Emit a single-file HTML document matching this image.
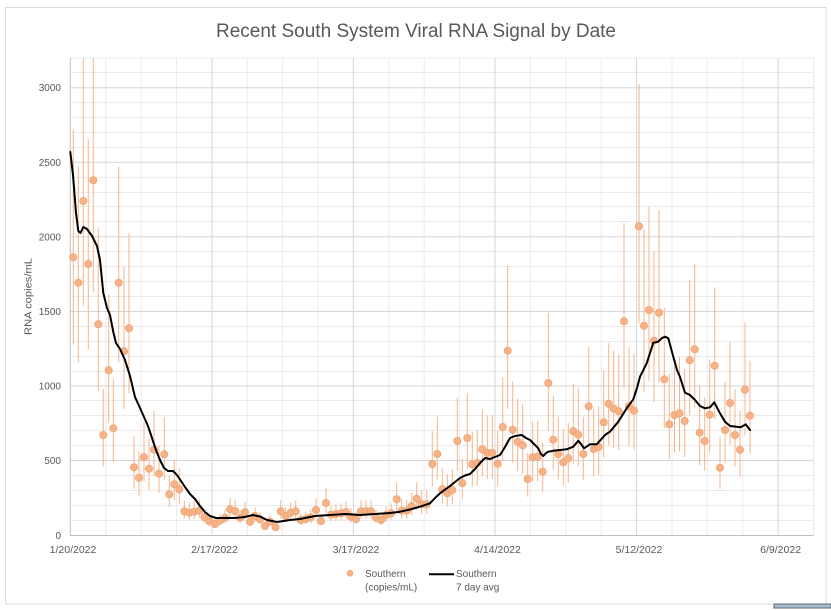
<!DOCTYPE html>
<html>
<head>
<meta charset="utf-8">
<style>
html,body{margin:0;padding:0;background:#fff;}
svg{display:block;}
text{font-family:"Liberation Sans",Arial,sans-serif;fill:#595959;}
</style>
</head>
<body>
<svg width="831" height="610" viewBox="0 0 831 610" xmlns="http://www.w3.org/2000/svg">
<rect x="0" y="0" width="831" height="610" fill="#fff"/>
<rect x="5.5" y="7.5" width="820.5" height="596.5" fill="none" stroke="#d9d9d9"/>
<rect x="774" y="604" width="57" height="4" fill="#a9bccd" stroke="#5b6b7b"/>
<text x="216" y="37" font-size="19" textLength="400" lengthAdjust="spacingAndGlyphs">Recent South System Viral RNA Signal by Date</text>
<path fill="none" stroke="#ebebeb" stroke-width="1" d="M70 520.5H813.5M70 505.5H813.5M70 490.5H813.5M70 475.5H813.5M70 445.5H813.5M70 430.5H813.5M70 415.5H813.5M70 400.5H813.5M70 371.5H813.5M70 356.5H813.5M70 341.5H813.5M70 326.5H813.5M70 296.5H813.5M70 281.5H813.5M70 266.5H813.5M70 251.5H813.5M70 221.5H813.5M70 206.5H813.5M70 192.5H813.5M70 177.5H813.5M70 147.5H813.5M70 132.5H813.5M70 117.5H813.5M70 102.5H813.5M70 72.5H813.5M70 58H813.5M105.7 58V535M141.1 58V535M176.5 58V535M247.3 58V535M282.6 58V535M318 58V535M388.8 58V535M424.2 58V535M459.6 58V535M530.4 58V535M565.8 58V535M601.2 58V535M672 58V535M707.3 58V535M742.7 58V535M813.5 58V535"/>
<path fill="none" stroke="#d6d6d6" stroke-width="1" d="M70 460.5H813.5M70 386H813.5M70 311.5H813.5M70 236.8H813.5M70 162.3H813.5M70 87.7H813.5M211.9 58V535M353.4 58V535M495 58V535M636.6 58V535M778.1 58V535"/>
<path fill="none" stroke="#bfbfbf" stroke-width="1" d="M70.3 58V535.5M70 535.5H813.5"/>
<g font-size="10" text-anchor="end">
<text x="61" y="539">0</text>
<text x="61" y="464">500</text>
<text x="61" y="389.5">1000</text>
<text x="61" y="315">1500</text>
<text x="61" y="240.3">2000</text>
<text x="61" y="165.8">2500</text>
<text x="61" y="91.2">3000</text>
</g>
<g font-size="10.5" text-anchor="middle">
<text x="73" y="553">1/20/2022</text>
<text x="214.5" y="553">2/17/2022</text>
<text x="356" y="553">3/17/2022</text>
<text x="497.5" y="553">4/14/2022</text>
<text x="639" y="553">5/12/2022</text>
<text x="780.6" y="553">6/9/2022</text>
</g>
<text transform="translate(31.5,296.5) rotate(-90)" font-size="10.5" text-anchor="middle" textLength="77" lengthAdjust="spacingAndGlyphs">RNA copies/mL</text>
<path fill="none" stroke="#f3b48c" stroke-width="1" d="M73.3 129.6V344.8M78.3 166.6V362.2M83.3 58V306.2M88.3 139.3V349.4M93.3 58V292M98.3 227.4V390.7M103.3 389V466.5M108.7 294.5V422.2M113.3 379.2V461.9M118.7 166.6V362.2M124 266.8V409.2M129 233.2V393.4M134 436.2V488.6M139 451.3V495.8M144 421.6V481.8M149 438.2V489.6M154 410.5V476.6M159 445.5V493M164.3 417.2V479.7M169.3 475.6V507.1M174.3 461V500.3M179.3 468.3V503.7M184.3 500.4V518.8M189.3 502.4V519.7M194.3 501V519M199.3 499.5V518.4M204.5 509.2V522.9M209.5 515.3V525.8M215 519V527.5M220 514.1V525.2M225 509.7V523.2M230 497.5V517.4M235 500V518.6M240 509.7V523.2M245 501.9V519.5M250 515.6V525.9M255 507.3V522M260 512.1V524.2M265 521.9V528.8M270 515.6V525.9M275.5 523.8V529.7M280.7 500.4V518.8M285.7 507.3V522M290.7 502.4V519.7M295.7 500.4V518.8M300.7 513.1V524.7M305.7 511.6V524M310.7 509.2V522.9M316 498.5V517.9M321 514.6V525.4M326 488.3V513.1M331 505.4V521.1M336 504.3V520.6M341 503.3V520.1M346 501.4V519.2M351 508.3V522.5M356 511.6V524M361 500.4V518.8M366 500.4V518.8M371 500.4V518.8M376 509.7V523.2M381 513.1V524.7M386 506.2V521.5M391 503.3V520.1M396.7 482.9V510.5M401.7 499.5V518.4M406.7 499.5V518.4M411.7 492.7V515.1M416.7 482V510.1M421.7 490.2V514M426.7 490.2V514M432.3 431.3V486.4M437.3 416.7V479.5M442.3 468.3V503.7M447.3 474.1V506.4M452.3 469.3V504.2M457.3 397.8V470.6M462.3 459.1V499.4M467.3 393.4V468.6M472.3 431.8V486.6M477.3 429.9V485.7M482.3 409.9V476.3M487.3 415.3V478.8M492.3 415.3V478.8M497.7 430.9V486.2M502.7 377.3V461M507.7 265.9V408.8M512.7 381.3V462.9M517.7 398.8V471.1M522.7 404V473.6M527.7 453.2V496.6M532.7 421.6V481.8M537.7 420.7V481.4M542.7 442.6V491.6M548.3 313.1V430.9M553.3 395.9V469.7M558.3 416.7V479.5M563.3 428.9V485.2M568.3 423V482.5M573.3 383.6V464M578.3 388.6V466.3M583.3 416.7V479.5M588.7 347.1V446.8M593.7 409.4V476.1M598.7 406.5V474.7M603.7 370.5V457.8M608.7 343.3V445.1M613.7 350.6V448.5M618.7 354.4V450.3M624 223V388.6M629 347.1V446.8M634 353.5V449.9M639 84.3V323.5M644 229.4V391.6M649 206.5V380.9M654 251.3V401.9M659 210.4V382.7M664.3 307.7V428.3M669.3 373.4V459.2M674.5 359.8V452.8M679.5 357.3V451.6M684.7 368.6V456.9M689.7 280V415.3M694.7 263.9V407.8M699.7 385.6V464.9M704.7 397.8V470.6M709.7 359.4V452.6M714.7 287.8V419M720 436.7V488.9M725 381.7V463.1M730 342.3V444.6M735 389V466.5M740 410.5V476.6M745 322.9V435.5M750 360.8V453.3"/>
<g fill="#f5b387" stroke="#efa271" stroke-width="0.8">
<circle cx="73.3" cy="257.3" r="3.6"/><circle cx="78.3" cy="282.7" r="3.6"/><circle cx="83.3" cy="201" r="3.6"/><circle cx="88.3" cy="264" r="3.6"/><circle cx="93.3" cy="180.3" r="3.6"/>
<circle cx="98.3" cy="324.3" r="3.6"/><circle cx="103.3" cy="435" r="3.6"/><circle cx="108.7" cy="370.3" r="3.6"/><circle cx="113.3" cy="428.3" r="3.6"/><circle cx="118.7" cy="282.7" r="3.6"/>
<circle cx="124" cy="351.3" r="3.6"/><circle cx="129" cy="328.3" r="3.6"/><circle cx="134" cy="467.3" r="3.6"/><circle cx="139" cy="477.7" r="3.6"/><circle cx="144" cy="457.3" r="3.6"/>
<circle cx="149" cy="468.7" r="3.6"/><circle cx="154" cy="449.7" r="3.6"/><circle cx="159" cy="473.7" r="3.6"/><circle cx="164.3" cy="454.3" r="3.6"/><circle cx="169.3" cy="494.3" r="3.6"/>
<circle cx="174.3" cy="484.3" r="3.6"/><circle cx="179.3" cy="489.3" r="3.6"/><circle cx="184.3" cy="511.3" r="3.6"/><circle cx="189.3" cy="512.7" r="3.6"/><circle cx="194.3" cy="511.7" r="3.6"/>
<circle cx="199.3" cy="510.7" r="3.6"/><circle cx="204.5" cy="517.3" r="3.6"/><circle cx="209.5" cy="521.5" r="3.6"/><circle cx="215" cy="524" r="3.6"/><circle cx="220" cy="520.7" r="3.6"/>
<circle cx="225" cy="517.7" r="3.6"/><circle cx="230" cy="509.3" r="3.6"/><circle cx="235" cy="511" r="3.6"/><circle cx="240" cy="517.7" r="3.6"/><circle cx="245" cy="512.3" r="3.6"/>
<circle cx="250" cy="521.7" r="3.6"/><circle cx="255" cy="516" r="3.6"/><circle cx="260" cy="519.3" r="3.6"/><circle cx="265" cy="526" r="3.6"/><circle cx="270" cy="521.7" r="3.6"/>
<circle cx="275.5" cy="527.3" r="3.6"/><circle cx="280.7" cy="511.3" r="3.6"/><circle cx="285.7" cy="516" r="3.6"/><circle cx="290.7" cy="512.7" r="3.6"/><circle cx="295.7" cy="511.3" r="3.6"/>
<circle cx="300.7" cy="520" r="3.6"/><circle cx="305.7" cy="519" r="3.6"/><circle cx="310.7" cy="517.3" r="3.6"/><circle cx="316" cy="510" r="3.6"/><circle cx="321" cy="521" r="3.6"/>
<circle cx="326" cy="503" r="3.6"/><circle cx="331" cy="514.7" r="3.6"/><circle cx="336" cy="514" r="3.6"/><circle cx="341" cy="513.3" r="3.6"/><circle cx="346" cy="512" r="3.6"/>
<circle cx="351" cy="516.7" r="3.6"/><circle cx="356" cy="519" r="3.6"/><circle cx="361" cy="511.3" r="3.6"/><circle cx="366" cy="511.3" r="3.6"/><circle cx="371" cy="511.3" r="3.6"/>
<circle cx="376" cy="517.7" r="3.6"/><circle cx="381" cy="520" r="3.6"/><circle cx="386" cy="515.3" r="3.6"/><circle cx="391" cy="513.3" r="3.6"/><circle cx="396.7" cy="499.3" r="3.6"/>
<circle cx="401.7" cy="510.7" r="3.6"/><circle cx="406.7" cy="510.7" r="3.6"/><circle cx="411.7" cy="506" r="3.6"/><circle cx="416.7" cy="498.7" r="3.6"/><circle cx="421.7" cy="504.3" r="3.6"/>
<circle cx="426.7" cy="504.3" r="3.6"/><circle cx="432.3" cy="464" r="3.6"/><circle cx="437.3" cy="454" r="3.6"/><circle cx="442.3" cy="489.3" r="3.6"/><circle cx="447.3" cy="493.3" r="3.6"/>
<circle cx="452.3" cy="490" r="3.6"/><circle cx="457.3" cy="441" r="3.6"/><circle cx="462.3" cy="483" r="3.6"/><circle cx="467.3" cy="438" r="3.6"/><circle cx="472.3" cy="464.3" r="3.6"/>
<circle cx="477.3" cy="463" r="3.6"/><circle cx="482.3" cy="449.3" r="3.6"/><circle cx="487.3" cy="453" r="3.6"/><circle cx="492.3" cy="453" r="3.6"/><circle cx="497.7" cy="463.7" r="3.6"/>
<circle cx="502.7" cy="427" r="3.6"/><circle cx="507.7" cy="350.7" r="3.6"/><circle cx="512.7" cy="429.7" r="3.6"/><circle cx="517.7" cy="441.7" r="3.6"/><circle cx="522.7" cy="445.3" r="3.6"/>
<circle cx="527.7" cy="479" r="3.6"/><circle cx="532.7" cy="457.3" r="3.6"/><circle cx="537.7" cy="456.7" r="3.6"/><circle cx="542.7" cy="471.7" r="3.6"/><circle cx="548.3" cy="383" r="3.6"/>
<circle cx="553.3" cy="439.7" r="3.6"/><circle cx="558.3" cy="454" r="3.6"/><circle cx="563.3" cy="462.3" r="3.6"/><circle cx="568.3" cy="458.3" r="3.6"/><circle cx="573.3" cy="431.3" r="3.6"/>
<circle cx="578.3" cy="434.7" r="3.6"/><circle cx="583.3" cy="454" r="3.6"/><circle cx="588.7" cy="406.3" r="3.6"/><circle cx="593.7" cy="449" r="3.6"/><circle cx="598.7" cy="447" r="3.6"/>
<circle cx="603.7" cy="422.3" r="3.6"/><circle cx="608.7" cy="403.7" r="3.6"/><circle cx="613.7" cy="408.7" r="3.6"/><circle cx="618.7" cy="411.3" r="3.6"/><circle cx="624" cy="321.3" r="3.6"/>
<circle cx="629" cy="406.3" r="3.6"/><circle cx="634" cy="410.7" r="3.6"/><circle cx="639" cy="226.3" r="3.6"/><circle cx="644" cy="325.7" r="3.6"/><circle cx="649" cy="310" r="3.6"/>
<circle cx="654" cy="340.7" r="3.6"/><circle cx="659" cy="312.7" r="3.6"/><circle cx="664.3" cy="379.3" r="3.6"/><circle cx="669.3" cy="424.3" r="3.6"/><circle cx="674.5" cy="415" r="3.6"/>
<circle cx="679.5" cy="413.3" r="3.6"/><circle cx="684.7" cy="421" r="3.6"/><circle cx="689.7" cy="360.3" r="3.6"/><circle cx="694.7" cy="349.3" r="3.6"/><circle cx="699.7" cy="432.7" r="3.6"/>
<circle cx="704.7" cy="441" r="3.6"/><circle cx="709.7" cy="414.7" r="3.6"/><circle cx="714.7" cy="365.7" r="3.6"/><circle cx="720" cy="467.7" r="3.6"/><circle cx="725" cy="430" r="3.6"/>
<circle cx="730" cy="403" r="3.6"/><circle cx="735" cy="435" r="3.6"/><circle cx="740" cy="449.7" r="3.6"/><circle cx="745" cy="389.7" r="3.6"/><circle cx="750" cy="415.7" r="3.6"/>
</g>
<polyline fill="none" stroke="#000" stroke-width="2" stroke-linejoin="round" stroke-linecap="round" points="70.3,152 73,175 76,213 78.3,231 80.5,233 83.3,227 87,229 92,236 97,246 100,260 103.3,293 107,308 110,315 113.3,332 116,343 120,349 125,360 130,376 135,397 140,408 144,417 148,426 152,438 156,450 160,460 164,468 168,471 173,471 177,475 181,481 185,487 190,494 195,499 200,506 205,512 210,516 216,518 225,518 235,518 245,517 253,515 260,516.5 267,520 277,522 290,520 300,519 315,516 330,515 345,514 360,515 375,514 390,513 400,511.7 410,509.5 420,506.7 430,503.3 435,498 440,493.3 450,486 460,478 465,475.5 470,474 475,469 480,463 485,458 490,459 495,457 500,455 505,447 510,438 515,436 521.7,435 526,438 530,440 535,445 538.3,448.3 541,454 543.3,456 546,453 548.3,451.7 555,450.5 560,450 566.7,449.3 573.3,446.7 578.3,440.7 581,444 584,448.3 590,444.3 596.7,444.3 605,435 610,431.7 618.3,421.7 626.7,408.3 633.3,399.3 637,388 640,376.7 646.7,363.3 653.3,342.7 658.3,341.7 662,338 665,336.7 668.3,338.3 673.3,356.7 677,370 680,377 685,392.7 690,395 695,400 700,406 705,408.3 710,407.3 714.3,402.3 720,413.3 725,421.7 730,426 736.7,426.7 740.7,427.3 745.7,424.3 750,430"/>
<circle cx="350" cy="573.3" r="3" fill="#f5b387" stroke="#efa271" stroke-width="0.6"/>
<text x="365" y="577" font-size="10">Southern</text>
<text x="365" y="590.5" font-size="10">(copies/mL)</text>
<line x1="429" x2="454" y1="574.3" y2="574.3" stroke="#000" stroke-width="2"/>
<text x="456" y="577" font-size="10">Southern</text>
<text x="456" y="590.5" font-size="10">7 day avg</text>
</svg>
</body>
</html>
